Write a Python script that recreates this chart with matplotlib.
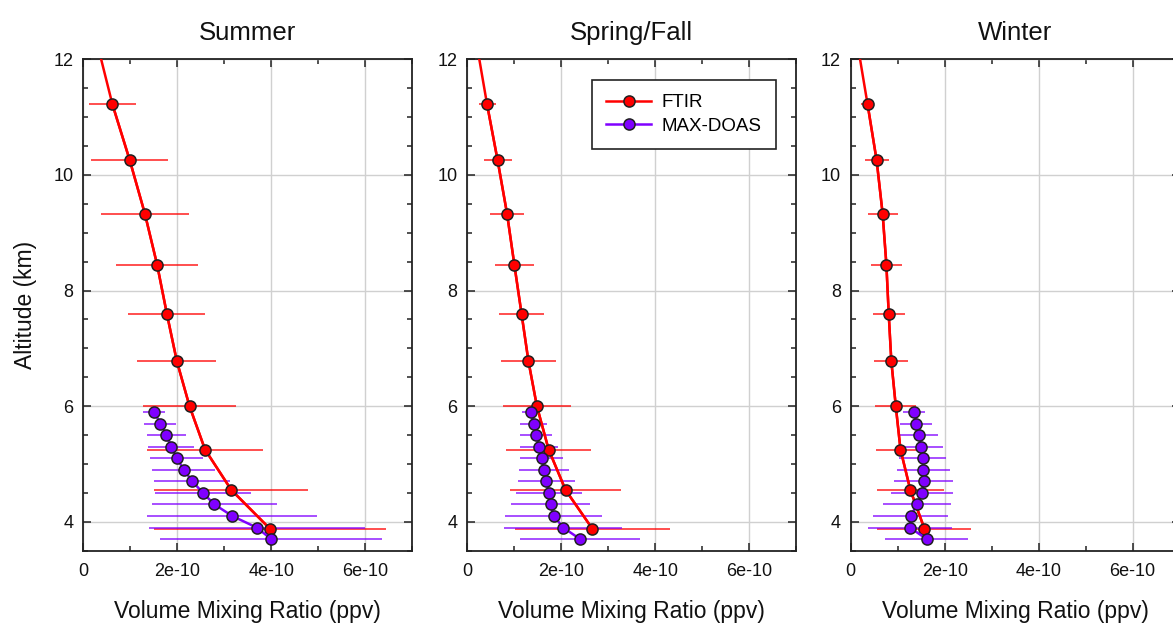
from matplotlib import pyplot as plt
from matplotlib.ticker import FixedLocator, FuncFormatter

plt.rcParams['font.family'] = ['Liberation Sans', 'DejaVu Sans']

seasons = ["Summer", "Spring/Fall", "Winter"]

# FTIR retrieval levels (km) and profiles (units of 1e-10 ppv)
ftir_alt = [11.22, 10.25, 9.33, 8.45, 7.59, 6.78, 6.0, 5.25, 4.55, 3.88]
ftir_vmr = [[0.62, 0.99, 1.31, 1.57, 1.78, 1.99, 2.26, 2.59, 3.15, 3.97],
            [0.42, 0.645, 0.845, 1.0, 1.155, 1.30, 1.48, 1.73, 2.09, 2.66],
            [0.36, 0.553, 0.68, 0.76, 0.81, 0.865, 0.96, 1.06, 1.27, 1.57]]
ftir_err = [[0.50, 0.82, 0.94, 0.88, 0.82, 0.84, 0.98, 1.23, 1.64, 2.46],
            [0.18, 0.30, 0.37, 0.42, 0.48, 0.58, 0.73, 0.90, 1.19, 1.65],
            [0.145, 0.255, 0.32, 0.33, 0.34, 0.36, 0.44, 0.52, 0.72, 1.0]]
# FTIR profile value at the 12 km top of the plot (line only, no marker)
ftir_top_alt = 12.0
ftir_top_vmr = [0.38, 0.255, 0.2]

# MAX-DOAS levels (km) and profiles (units of 1e-10 ppv)
doas_alt = [5.9, 5.7, 5.5, 5.3, 5.1, 4.9, 4.7, 4.5, 4.3, 4.1, 3.9, 3.7]
doas_vmr = [[1.51, 1.64, 1.77, 1.87, 1.99, 2.14, 2.32, 2.545, 2.79, 3.17, 3.69, 4.0],
            [1.355, 1.41, 1.47, 1.525, 1.58, 1.63, 1.68, 1.74, 1.77, 1.84, 2.04, 2.40],
            [1.35, 1.40, 1.45, 1.50, 1.53, 1.545, 1.55, 1.52, 1.41, 1.28, 1.26, 1.62]]
doas_err = [[0.23, 0.34, 0.42, 0.49, 0.56, 0.67, 0.81, 1.02, 1.33, 1.81, 2.3, 2.36],
            [0.19, 0.28, 0.34, 0.40, 0.45, 0.53, 0.61, 0.71, 0.84, 1.03, 1.25, 1.28],
            [0.24, 0.34, 0.41, 0.46, 0.50, 0.56, 0.62, 0.66, 0.72, 0.80, 0.90, 0.88]]

# axis ticks
x_major = [0, 2e-10, 4e-10, 6e-10]
x_minor = [1e-10, 3e-10, 5e-10, 7e-10]
y_major = [4, 6, 8, 10, 12]
y_minor = [3.5, 4.5, 5, 5.5, 6.5, 7, 7.5, 8.5, 9, 9.5, 10.5, 11, 11.5]

scale = 1e-10
red = '#ff0000'
purple = '#8000ff'

fig = plt.figure(figsize=(11.73, 6.28), dpi=100)
lefts = [0.0710, 0.3984, 0.7252]


def fmt(v, pos):
    if abs(v) < 1e-15:
        return "0"
    return "{:.0f}e-10".format(v / scale)


for i in range(3):
    ax = fig.add_axes([lefts[i], 0.1231, 0.2805, 0.7825])

    fx = [v * scale for v in ftir_vmr[i]]
    fe = [v * scale for v in ftir_err[i]]
    dx = [v * scale for v in doas_vmr[i]]
    de = [v * scale for v in doas_err[i]]

    ax.errorbar(fx, ftir_alt, xerr=fe, fmt='none', ecolor=red, elinewidth=1.3,
                alpha=0.75, zorder=2)
    ax.errorbar(dx, doas_alt, xerr=de, fmt='none', ecolor=purple, elinewidth=1.3,
                alpha=0.75, zorder=3)

    ax.plot([ftir_top_vmr[i] * scale] + fx, [ftir_top_alt] + ftir_alt, color=red,
            lw=1.8, zorder=4)
    l1, = ax.plot(fx, ftir_alt, color=red, lw=1.8, marker='o', ms=8,
                  mfc=red, mec='#202020', mew=1.1, zorder=5, label='FTIR')
    l2, = ax.plot(dx, doas_alt, color=purple, lw=1.8, marker='o', ms=8,
                  mfc=purple, mec='#202020', mew=1.1, zorder=6, label='MAX-DOAS')

    ax.set_xlim(0, 7e-10)
    ax.set_ylim(3.5, 12)
    ax.xaxis.set_major_locator(FixedLocator(x_major))
    ax.xaxis.set_minor_locator(FixedLocator(x_minor))
    ax.yaxis.set_major_locator(FixedLocator(y_major))
    ax.yaxis.set_minor_locator(FixedLocator(y_minor))
    ax.xaxis.set_major_formatter(FuncFormatter(fmt))
    ax.xaxis.get_offset_text().set_visible(False)

    ax.tick_params(which='both', direction='in', top=True, right=True,
                   width=1.1, colors='#222222')
    ax.tick_params(which='major', length=6, labelsize=13, labelcolor='#111111')
    ax.tick_params(which='minor', length=3.5)
    ax.tick_params(axis='x', pad=9)
    ax.tick_params(axis='y', pad=7)
    ax.grid(True, which='major', color='#d0d0d0', lw=1.0, zorder=0)
    ax.set_axisbelow(True)
    for s in ax.spines.values():
        s.set_linewidth(1.3)
        s.set_color('#222222')

    ax.set_title(seasons[i], fontsize=18.5, pad=14, color='#111111')
    ax.set_xlabel("Volume Mixing Ratio (ppv)", fontsize=16.5, labelpad=14,
                  color='#111111')
    if i == 0:
        ax.set_ylabel("Altitude (km)", fontsize=16.5, labelpad=12, color='#111111')
    if i == 1:
        leg = ax.legend(handles=[l1, l2], loc='upper right', fontsize=13.5,
                        frameon=True, fancybox=False, borderaxespad=1.1,
                        handlelength=2.4, handletextpad=0.55, labelspacing=0.35,
                        borderpad=0.75)
        leg.get_frame().set_edgecolor('#222222')
        leg.get_frame().set_linewidth(1.2)
        leg.get_frame().set_alpha(1)

fig.savefig("out.png", dpi=100)
